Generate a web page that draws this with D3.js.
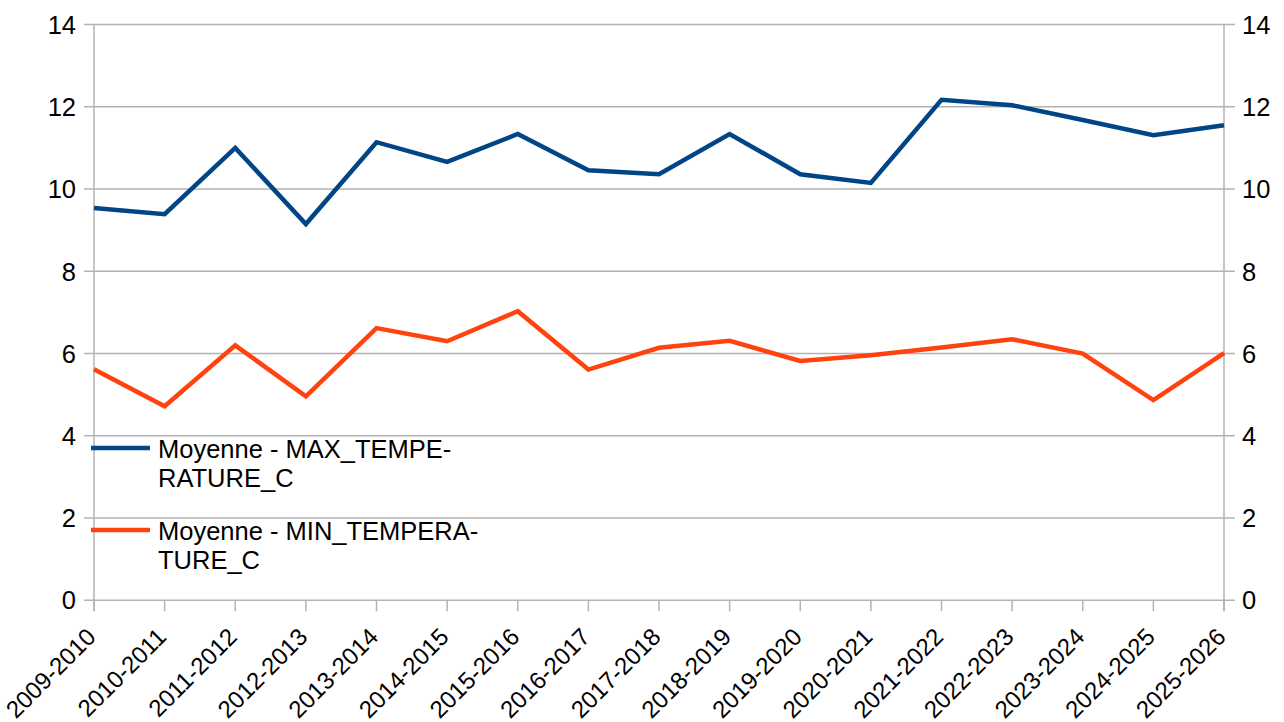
<!DOCTYPE html>
<html><head><meta charset="utf-8">
<script src="https://cdn.jsdelivr.net/npm/d3@7"></script>
<style>body{margin:0;background:#fff;} text{font-family:"Liberation Sans",Arial,sans-serif;}</style>
</head><body>
<svg id="c" width="1284" height="722"></svg>
<script>
const categories = ["2009-2010","2010-2011","2011-2012","2012-2013","2013-2014","2014-2015","2015-2016","2016-2017","2017-2018","2018-2019","2019-2020","2020-2021","2021-2022","2022-2023","2023-2024","2024-2025","2025-2026"];
const maxTemp = [9.54,9.39,11.0,9.15,11.14,10.66,11.34,10.46,10.36,11.34,10.36,10.15,12.17,12.04,11.68,11.31,11.55];
const minTemp = [5.62,4.72,6.2,4.96,6.62,6.3,7.03,5.61,6.14,6.31,5.82,5.96,6.15,6.35,6.0,4.87,6.01];
const yTicks = [0,2,4,6,8,10,12,14];
const seriesNames = ["Moyenne - MAX_TEMPE-|RATURE_C","Moyenne - MIN_TEMPERA-|TURE_C"];
const seriesColors = ["#004586","#ff420e"];

const svg = d3.select("#c");
const L=94, R=1224, T=24.6, B=600.3;
const x = d3.scalePoint().domain(categories).range([L,R]);
const y = d3.scaleLinear().domain([0,14]).range([B,T]);
const grid="#b3b3b3";
const fs=25.5;

// gridlines
svg.append("g").selectAll("line").data(yTicks).join("line")
  .attr("x1",L-10).attr("x2",R+11).attr("y1",d=>y(d)).attr("y2",d=>y(d))
  .attr("stroke",grid).attr("stroke-width",1.5);
// axis lines
svg.append("line").attr("x1",L).attr("x2",L).attr("y1",T).attr("y2",B+11).attr("stroke",grid).attr("stroke-width",1.5);
svg.append("line").attr("x1",R).attr("x2",R).attr("y1",T).attr("y2",B+11).attr("stroke",grid).attr("stroke-width",1.5);
// x ticks
svg.append("g").selectAll("line").data(categories).join("line")
  .attr("x1",d=>x(d)).attr("x2",d=>x(d)).attr("y1",B).attr("y2",B+11)
  .attr("stroke",grid).attr("stroke-width",1.5);

// y labels
svg.append("g").selectAll("text").data(yTicks).join("text")
  .attr("x",76).attr("y",d=>y(d)).attr("dy","0.36em").attr("text-anchor","end")
  .attr("font-size",fs).attr("fill","#000").text(d=>d);
svg.append("g").selectAll("text").data(yTicks).join("text")
  .attr("x",1242).attr("y",d=>y(d)).attr("dy","0.36em").attr("text-anchor","start")
  .attr("font-size",fs).attr("fill","#000").text(d=>d);

// x labels
svg.append("g").selectAll("text").data(categories).join("text")
  .attr("transform",d=>`translate(${x(d)-3},${B+32}) rotate(-45)`)
  .attr("text-anchor","end").attr("dy","0.36em")
  .attr("font-size",24).attr("fill","#000").text(d=>d);

// lines
const line = d3.line().x((d,i)=>x(categories[i])).y(d=>y(d));
[maxTemp,minTemp].forEach((s,i)=>{
  svg.append("path").datum(s).attr("d",line).attr("fill","none")
    .attr("stroke",seriesColors[i]).attr("stroke-width",4.5).attr("stroke-linejoin","miter");
});

// legend
const legY=[448,530];
seriesNames.forEach((n,i)=>{
  const g=svg.append("g");
  g.append("line").attr("x1",91).attr("x2",150).attr("y1",legY[i]).attr("y2",legY[i])
    .attr("stroke",seriesColors[i]).attr("stroke-width",4.5);
  n.split("|").forEach((t,j)=>{
    g.append("text").attr("x",158).attr("y",legY[i]+10+j*29).attr("font-size",fs).attr("fill","#000").text(t);
  });
});
</script>
</body></html>
